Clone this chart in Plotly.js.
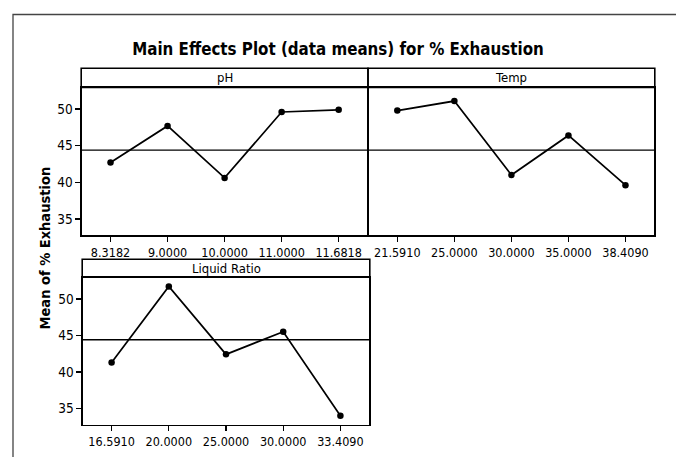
<!DOCTYPE html>
<html>
<head>
<meta charset="utf-8">
<script src="https://cdn.plot.ly/plotly-3.0.1.min.js"></script>
<style>html,body{margin:0;padding:0;background:#fff;}#chart{width:676px;height:457px;}</style>
</head>
<body>
<div id="chart"></div>
<script>
// Data
const phLevels = ["8.3182", "9.0000", "10.0000", "11.0000", "11.6818"];
const phMeans = [42.7, 47.7, 40.6, 49.6, 49.9];
const tempLevels = ["21.5910", "25.0000", "30.0000", "35.0000", "38.4090"];
const tempMeans = [49.8, 51.1, 41.0, 46.4, 39.6];
const ratioLevels = ["16.5910", "20.0000", "25.0000", "30.0000", "33.4090"];
const ratioMeans = [41.3, 51.7, 42.4, 45.5, 34.0];
const grandMean = 44.4;
const panelTitles = ["pH", "Temp", "Liquid Ratio"];
const yTicks = [35, 40, 45, 50];

const W = 676, H = 457;
const px = v => v / W;
const py = v => (H - v) / H;

const FONT = "DejaVu Sans Condensed";
const lineStyle = {color: "#000", width: 1.7};
const markerStyle = {color: "#000", size: 6.5};
const xTickFont = {family: FONT, size: 12.5, color: "#000"};
const yTickFont = {family: FONT, size: 13.5, color: "#000"};

function trace(x, y, xa, ya) {
  return {x: x, y: y, xaxis: xa, yaxis: ya, type: "scatter", mode: "lines+markers",
          line: lineStyle, marker: markerStyle, hoverinfo: "x+y"};
}

const data = [
  trace(phLevels, phMeans, "x", "y"),
  trace(tempLevels, tempMeans, "x2", "y2"),
  trace(ratioLevels, ratioMeans, "x3", "y3")
];

function xAxis(domain, anchor, cats) {
  return {domain: domain, anchor: anchor, type: "category", categoryarray: cats,
          range: [-0.5, 4.5], showline: true, linecolor: "#000", linewidth: 1.6, mirror: true,
          ticks: "outside", ticklen: 5, tickcolor: "#000", tickwidth: 1.3, showgrid: false, zeroline: false,
          tickfont: xTickFont, fixedrange: true};
}
function yAxis(domain, anchor, showLabels) {
  return {domain: domain, anchor: anchor, range: [32.8, 52.95], tickvals: yTicks,
          showline: true, linecolor: "#000", linewidth: 1.6, mirror: true,
          ticks: showLabels ? "outside" : "", ticklen: 5, tickcolor: "#000", tickwidth: 1.3,
          showticklabels: showLabels, showgrid: false, zeroline: false,
          tickfont: yTickFont, fixedrange: true};
}

const topDom = [py(235), py(87.5)];
const botDom = [py(424.5), py(277.3)];

const panels = [
  {x0: 81.2, x1: 368, sTop: 68.3, sBot: 87.5, xa: "x", ya: "y", title: panelTitles[0]},
  {x0: 368, x1: 654.8, sTop: 68.3, sBot: 87.5, xa: "x2", ya: "y2", title: panelTitles[1]},
  {x0: 82.2, x1: 369.8, sTop: 259.3, sBot: 277.3, xa: "x3", ya: "y3", title: panelTitles[2]}
];

const shapes = [];
const annotations = [];
panels.forEach(p => {
  shapes.push({type: "rect", xref: "paper", yref: "paper", x0: px(p.x0), x1: px(p.x1),
               y0: py(p.sBot), y1: py(p.sTop), line: {color: "#000", width: 1.6}, fillcolor: "rgba(0,0,0,0)"});
  annotations.push({xref: "paper", yref: "paper", x: px((p.x0 + p.x1) / 2), y: py((p.sTop + p.sBot) / 2),
                    text: p.title, showarrow: false, xanchor: "center", yanchor: "middle",
                    font: {family: FONT, size: 13, color: "#000"}});
  shapes.push({type: "line", xref: p.xa + " domain", yref: p.ya, x0: 0, x1: 1, y0: grandMean, y1: grandMean,
               line: {color: "#000", width: 1.4}});
});
// outer frame
shapes.push({type: "path", xref: "paper", yref: "paper",
             path: `M ${px(13)} ${py(460)} L ${px(13)} ${py(14.5)} L ${px(680)} ${py(14.5)}`,
             line: {color: "#444", width: 1.3}});

annotations.push({xref: "paper", yref: "paper", x: px(44), y: py(248.5), text: "<b>Mean of % Exhaustion</b>",
                  textangle: -90, showarrow: false, xanchor: "center", yanchor: "middle",
                  font: {family: FONT, size: 14.5, color: "#000"}});

const layout = {
  width: W, height: H, margin: {l: 0, r: 0, t: 0, b: 0},
  paper_bgcolor: "#fff", plot_bgcolor: "#fff", showlegend: false,
  title: {text: "<b>Main Effects Plot (data means) for % Exhaustion</b>",
          font: {family: FONT, size: 16.8, color: "#000"},
          x: px(338), xanchor: "center", y: py(49), yanchor: "middle", yref: "paper"},
  xaxis: xAxis([px(82), px(367.2)], "y", phLevels),
  yaxis: yAxis(topDom, "x", true),
  xaxis2: xAxis([px(368.8), px(654)], "y2", tempLevels),
  yaxis2: yAxis(topDom, "x2", false),
  xaxis3: xAxis([px(83), px(369)], "y3", ratioLevels),
  yaxis3: yAxis(botDom, "x3", true),
  shapes: shapes,
  annotations: annotations
};

Plotly.newPlot("chart", data, layout, {displayModeBar: false, staticPlot: true});
</script>
</body>
</html>
